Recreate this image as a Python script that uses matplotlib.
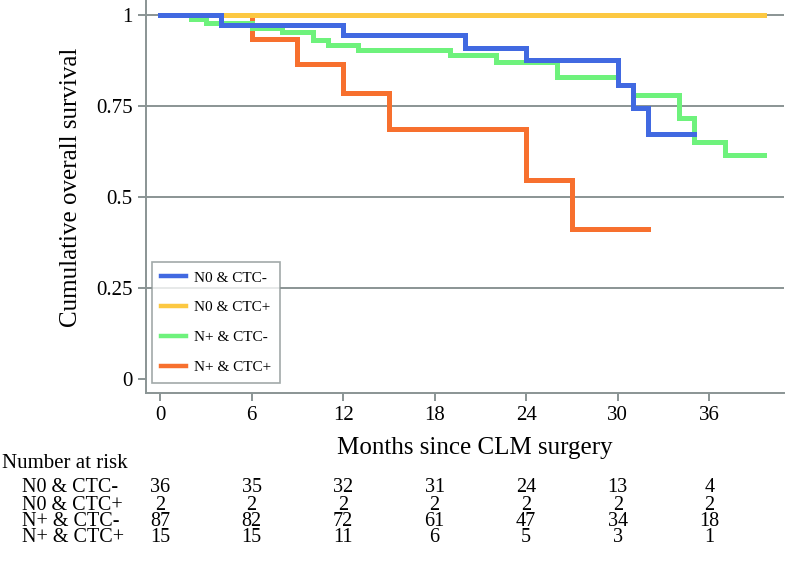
import matplotlib
matplotlib.use("Agg")
import matplotlib.pyplot as plt
from matplotlib.transforms import blended_transform_factory

# Kaplan-Meier step curves
blue_t = [0, 4, 12, 20, 24, 30, 31, 32, 35]
blue_s = [1.0, 0.972, 0.944, 0.909, 0.876, 0.808, 0.744, 0.673, 0.673]

yellow_t = [0, 39.6]
yellow_s = [1.0, 1.0]

green_t = [0, 2, 3, 6, 8, 10, 11, 13, 19, 22, 26, 30, 31, 34, 35, 37, 39.6]
green_s = [1.0, 0.989, 0.977, 0.964, 0.953, 0.931, 0.918, 0.904, 0.890,
           0.871, 0.830, 0.808, 0.780, 0.717, 0.651, 0.615, 0.615]

orange_t = [0, 6, 9, 12, 15, 24, 27, 32]
orange_s = [1.0, 0.934, 0.866, 0.786, 0.687, 0.547, 0.412, 0.412]

groups = ["N0 & CTC-", "N0 & CTC+", "N+ & CTC-", "N+ & CTC+"]
colors = ["#4169e1", "#fcc842", "#6ef27c", "#f7702e"]

risk_times = [0, 6, 12, 18, 24, 30, 36]
risk_n0_neg = [36, 35, 32, 31, 24, 13, 4]
risk_n0_pos = [2, 2, 2, 2, 2, 2, 2]
risk_np_neg = [87, 82, 72, 61, 47, 34, 18]
risk_np_pos = [15, 15, 11, 6, 5, 3, 1]

yticks = [0, 0.25, 0.5, 0.75, 1]
ytick_labels = ["0", "0.25", "0.5", "0.75", "1"]

plt.rcParams["font.family"] = ["Liberation Serif", "DejaVu Serif"]
GREY = "#8a9494"

fig = plt.figure(figsize=(7.86, 5.74), dpi=100)
ax = fig.add_axes([0.1858, 0.3153, 0.8117, 0.6847])

curves = [(blue_t, blue_s), (yellow_t, yellow_s), (green_t, green_s), (orange_t, orange_s)]
zorders = [6, 5, 4, 3]
for (t, s), c, lab, z in zip(curves, colors, groups, zorders):
    ax.step(t, s, where="post", color=c, lw=3.6, label=lab, zorder=z,
            solid_joinstyle="miter")

for y in [0.25, 0.5, 0.75, 1.0]:
    ax.axhline(y, color=GREY, lw=1.4, zorder=1)

ax.set_xlim(-0.92, 40.9)
ax.set_ylim(-0.038, 1.041)
ax.set_xticks(risk_times)
ax.set_yticks(yticks)
ax.set_yticklabels(ytick_labels)
ax.tick_params(axis="both", colors=GREY, labelcolor="black", labelsize=15,
               width=1.4, length=6)
for side in ["top", "right"]:
    ax.spines[side].set_visible(False)
for side in ["left", "bottom"]:
    ax.spines[side].set_color(GREY)
    ax.spines[side].set_linewidth(1.4)

leg = ax.legend(loc="lower left", bbox_to_anchor=(0.0094, 0.0254), fontsize=11,
                frameon=True, fancybox=False, handlelength=1.6,
                labelspacing=1.05, borderpad=0.6, handletextpad=0.55,
                borderaxespad=0.0)
leg.get_frame().set_edgecolor(GREY)
leg.get_frame().set_linewidth(1.2)
for h in leg.get_lines():
    h.set_linewidth(3.2)

fig.text(71 / 786, 1 - 187 / 574, "Cumulative overall survival", rotation=90,
         ha="center", va="center", fontsize=18)
fig.text(475 / 786, 1 - 448 / 574, "Months since CLM surgery",
         ha="center", va="center", fontsize=18)

# number-at-risk table
fig.text(2 / 786, 1 - 463 / 574, "Number at risk", ha="left", va="center", fontsize=15)
trans = blended_transform_factory(ax.transData, fig.transFigure)
rows = [risk_n0_neg, risk_n0_pos, risk_np_neg, risk_np_pos]
row_y = [488, 505, 521, 537]
for lab, vals, yp in zip(groups, rows, row_y):
    fig.text(22 / 786, 1 - yp / 574, lab, ha="left", va="center", fontsize=14.5)
    for t, v in zip(risk_times, vals):
        ax.text(t, 1 - yp / 574, str(v), transform=trans, ha="center",
                va="center", fontsize=14.5, clip_on=False)

fig.savefig("out.png", dpi=100)
